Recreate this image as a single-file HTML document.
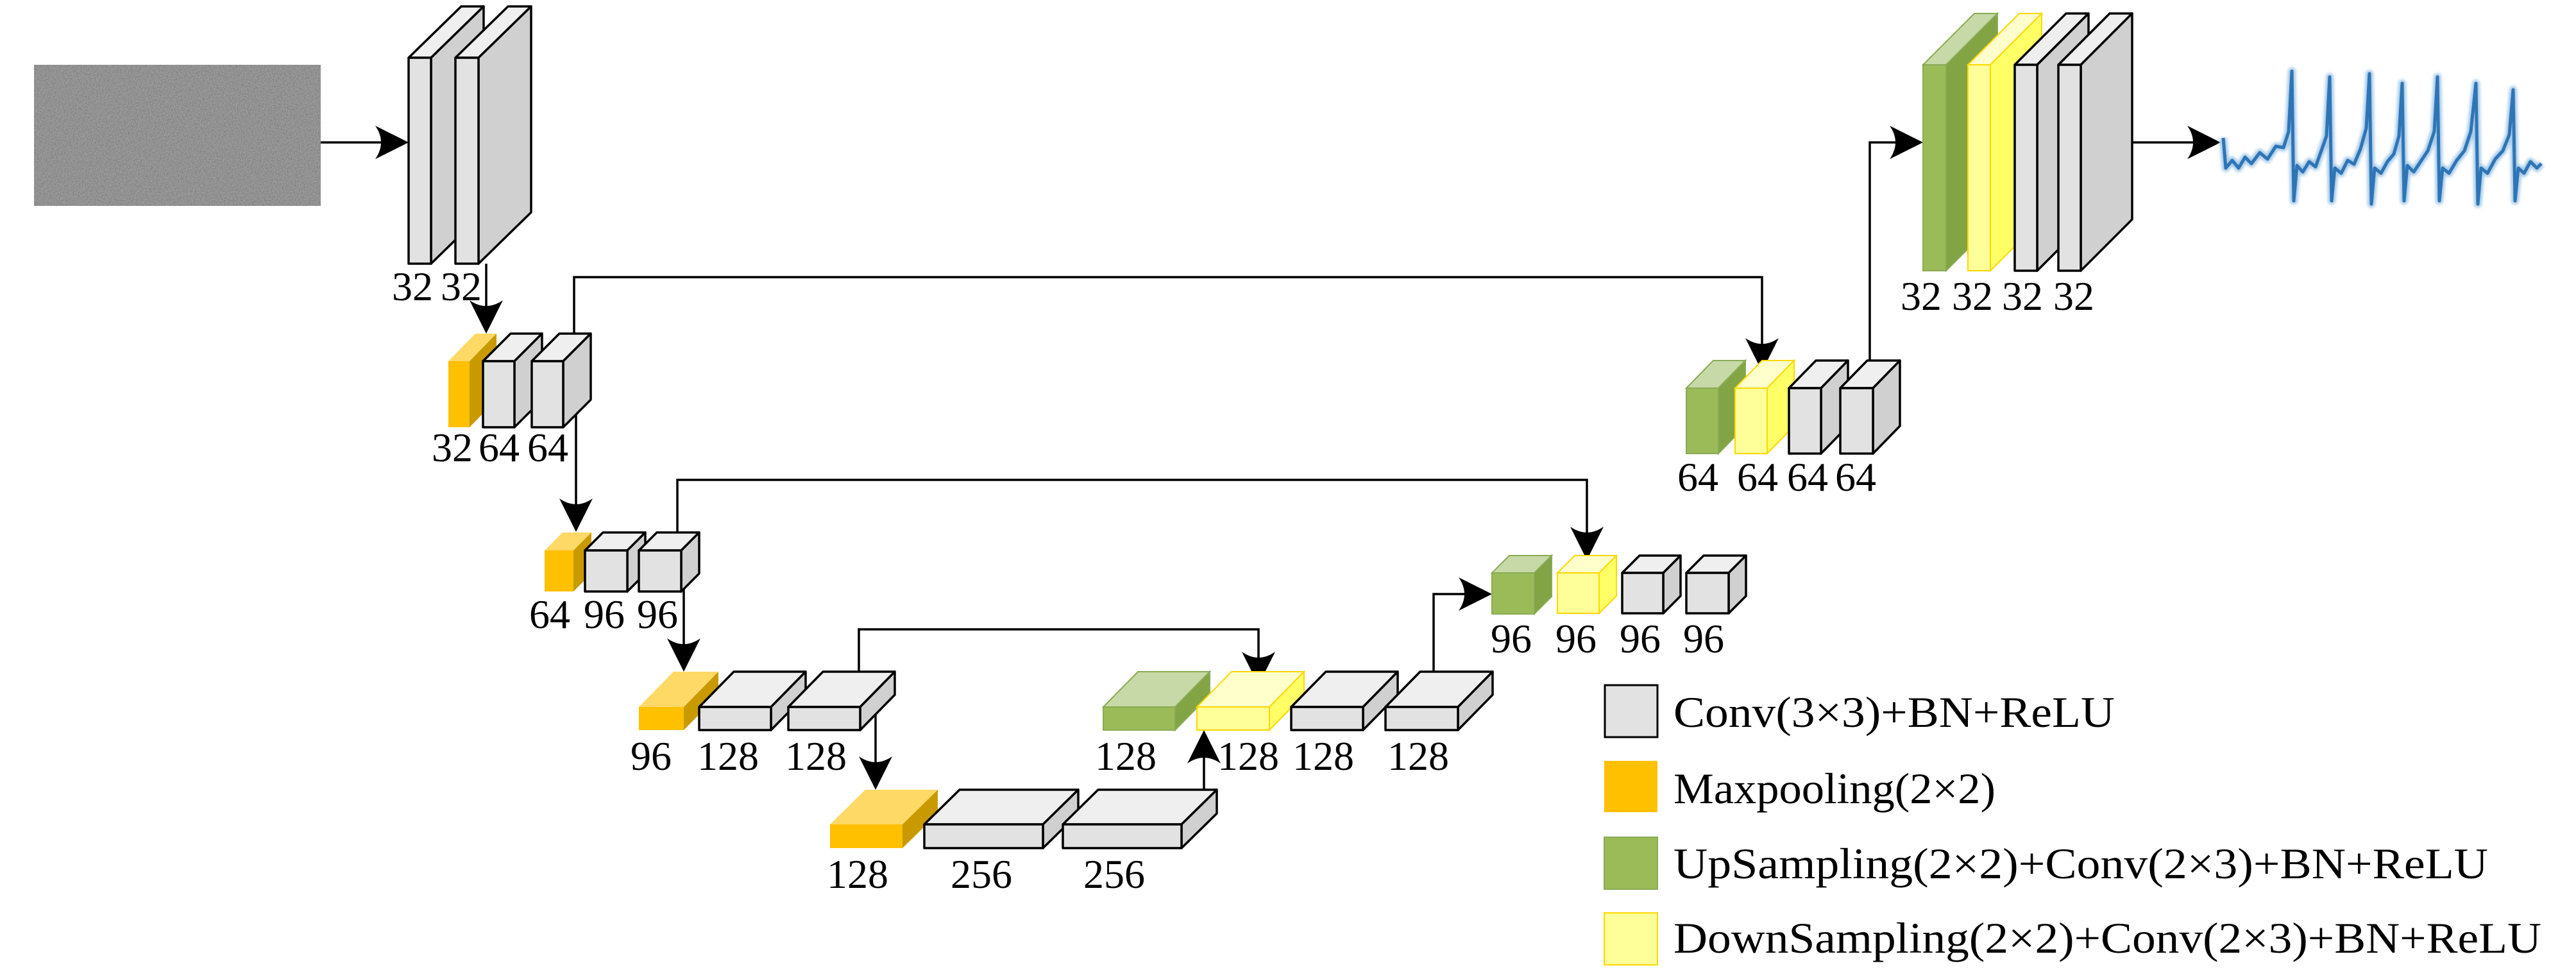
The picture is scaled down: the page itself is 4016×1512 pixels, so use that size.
<!DOCTYPE html>
<html><head><meta charset="utf-8"><style>html,body{margin:0;padding:0;background:#fff}svg{display:block}</style></head>
<body>
<svg width="4016" height="1512" viewBox="0 0 4016 1512" xmlns="http://www.w3.org/2000/svg">
<defs>
<path id="ah" d="M0,0 L-52,-26 Q-34,0 -52,26 Z" fill="#000"/>
<filter id="nz" x="0" y="0" width="100%" height="100%">
<feTurbulence type="fractalNoise" baseFrequency="0.5" numOctaves="2" seed="3"/>
<feColorMatrix type="matrix" values="1 0 0 0 0  1 0 0 0 0  1 0 0 0 0  0 0 0 0 1"/>
</filter>
<filter id="bl"><feGaussianBlur stdDeviation="2"/></filter>
</defs>

<!-- input noise image -->
<rect x="53" y="101" width="447" height="220" fill="#808080"/>
<rect x="53" y="101" width="447" height="220" filter="url(#nz)" opacity="0.3"/>

<g stroke="#000" stroke-width="3.5" fill="none">
<line x1="500" y1="222" x2="600" y2="222"/>
<line x1="758" y1="411" x2="758" y2="490"/>
<line x1="898" y1="647" x2="898" y2="800"/>
<line x1="1066" y1="912" x2="1066" y2="1020"/>
<line x1="1365" y1="1110" x2="1365" y2="1200"/>
<line x1="1877" y1="1231" x2="1877" y2="1165"/>
<polyline points="2235,1047 2235,926 2300,926"/>
<polyline points="895,520 895,432 2747,432 2747,550"/>
<polyline points="1056,830 1056,748 2474,748 2474,845"/>
<polyline points="1339,1047 1339,981 1962,981 1962,1040"/>
<polyline points="2915,582 2915,222 2970,222"/>
<line x1="3300" y1="222" x2="3430" y2="222"/>
</g>

<g>
<use href="#ah" transform="translate(637,222)"/>
<use href="#ah" transform="translate(758,520) rotate(90)"/>
<use href="#ah" transform="translate(898,829) rotate(90)"/>
<use href="#ah" transform="translate(1066,1047) rotate(90)"/>
<use href="#ah" transform="translate(1365,1231) rotate(90)"/>
<use href="#ah" transform="translate(1877,1138) rotate(-90)"/>
<use href="#ah" transform="translate(2326,926)"/>
<use href="#ah" transform="translate(2747,579) rotate(90)"/>
<use href="#ah" transform="translate(2474,873) rotate(90)"/>
<use href="#ah" transform="translate(1962,1068) rotate(90)"/>
<use href="#ah" transform="translate(2998,222)"/>
<use href="#ah" transform="translate(3462,222)"/>
</g>

<g stroke="#000" stroke-width="3.5" stroke-linejoin="round">
<polygon points="637,90 719,10 754,10 672,90" fill="#efefef"/><polygon points="672,90 754,10 754,331 672,411" fill="#d0d0d0"/><rect x="637" y="90" width="35" height="321" fill="#e2e2e2"/>
<polygon points="710,90 792,10 828,10 746,90" fill="#efefef"/><polygon points="746,90 828,10 828,331 746,411" fill="#d0d0d0"/><rect x="710" y="90" width="36" height="321" fill="#e2e2e2"/>
</g>
<g stroke="none"><polygon points="699,563 741,520 774,520 732,563" fill="#ffd966"/><polygon points="732,563 774,520 774,623 732,666" fill="#c99a00"/><rect x="699" y="563" width="33" height="103" fill="#ffc000"/></g>
<g stroke="#000" stroke-width="3.5" stroke-linejoin="round">
<polygon points="753,563 796,520 845,520 802,563" fill="#efefef"/><polygon points="802,563 845,520 845,623 802,666" fill="#d0d0d0"/><rect x="753" y="563" width="49" height="103" fill="#e2e2e2"/>
<polygon points="829,563 872,520 921,520 878,563" fill="#efefef"/><polygon points="878,563 921,520 921,623 878,666" fill="#d0d0d0"/><rect x="829" y="563" width="49" height="103" fill="#e2e2e2"/>
</g>
<g stroke="none"><polygon points="849,858 877,830 922,830 894,858" fill="#ffd966"/><polygon points="894,858 922,830 922,894 894,922" fill="#c99a00"/><rect x="849" y="858" width="45" height="64" fill="#ffc000"/></g>
<g stroke="#000" stroke-width="3.5" stroke-linejoin="round">
<polygon points="912,858 940,830 1006,830 978,858" fill="#efefef"/><polygon points="978,858 1006,830 1006,894 978,922" fill="#d0d0d0"/><rect x="912" y="858" width="66" height="64" fill="#e2e2e2"/>
<polygon points="996,858 1024,830 1090,830 1062,858" fill="#efefef"/><polygon points="1062,858 1090,830 1090,894 1062,922" fill="#d0d0d0"/><rect x="996" y="858" width="66" height="64" fill="#e2e2e2"/>
</g>
<g stroke="none"><polygon points="996,1102 1050,1047 1120,1047 1066,1102" fill="#ffd966"/><polygon points="1066,1102 1120,1047 1120,1083 1066,1138" fill="#c99a00"/><rect x="996" y="1102" width="70" height="36" fill="#ffc000"/></g>
<g stroke="#000" stroke-width="3.5" stroke-linejoin="round">
<polygon points="1090,1102 1144,1047 1256,1047 1202,1102" fill="#efefef"/><polygon points="1202,1102 1256,1047 1256,1083 1202,1138" fill="#d0d0d0"/><rect x="1090" y="1102" width="112" height="36" fill="#e2e2e2"/>
<polygon points="1229,1102 1283,1047 1395,1047 1341,1102" fill="#efefef"/><polygon points="1341,1102 1395,1047 1395,1083 1341,1138" fill="#d0d0d0"/><rect x="1229" y="1102" width="112" height="36" fill="#e2e2e2"/>
</g>
<g stroke="none"><polygon points="1294,1285 1349,1231 1462,1231 1407,1285" fill="#ffd966"/><polygon points="1407,1285 1462,1231 1462,1268 1407,1322" fill="#c99a00"/><rect x="1294" y="1285" width="113" height="37" fill="#ffc000"/></g>
<g stroke="#000" stroke-width="3.5" stroke-linejoin="round">
<polygon points="1441,1285 1496,1231 1681,1231 1626,1285" fill="#efefef"/><polygon points="1626,1285 1681,1231 1681,1268 1626,1322" fill="#d0d0d0"/><rect x="1441" y="1285" width="185" height="37" fill="#e2e2e2"/>
<polygon points="1657,1285 1712,1231 1897,1231 1842,1285" fill="#efefef"/><polygon points="1842,1285 1897,1231 1897,1268 1842,1322" fill="#d0d0d0"/><rect x="1657" y="1285" width="185" height="37" fill="#e2e2e2"/>
</g>
<g stroke="#8aab55" stroke-width="2"><polygon points="1720,1102 1774,1047 1886,1047 1832,1102" fill="#c6d9a6"/><polygon points="1832,1102 1886,1047 1886,1083 1832,1138" fill="#82a445"/><rect x="1720" y="1102" width="112" height="36" fill="#9bbb59"/></g>
<g stroke="#ffd700" stroke-width="2"><polygon points="1866,1102 1920,1047 2033,1047 1979,1102" fill="#ffffcc"/><polygon points="1979,1102 2033,1047 2033,1083 1979,1138" fill="#ffff66"/><rect x="1866" y="1102" width="113" height="36" fill="#ffff99"/></g>
<g stroke="#000" stroke-width="3.5" stroke-linejoin="round">
<polygon points="2013,1102 2067,1047 2179,1047 2125,1102" fill="#efefef"/><polygon points="2125,1102 2179,1047 2179,1083 2125,1138" fill="#d0d0d0"/><rect x="2013" y="1102" width="112" height="36" fill="#e2e2e2"/>
<polygon points="2160,1102 2214,1047 2327,1047 2273,1102" fill="#efefef"/><polygon points="2273,1102 2327,1047 2327,1083 2273,1138" fill="#d0d0d0"/><rect x="2160" y="1102" width="113" height="36" fill="#e2e2e2"/>
</g>
<g stroke="#8aab55" stroke-width="2"><polygon points="2326,893 2353,866 2419,866 2392,893" fill="#c6d9a6"/><polygon points="2392,893 2419,866 2419,930 2392,957" fill="#82a445"/><rect x="2326" y="893" width="66" height="64" fill="#9bbb59"/></g>
<g stroke="#ffd700" stroke-width="2"><polygon points="2428,893 2455,866 2520,866 2493,893" fill="#ffffcc"/><polygon points="2493,893 2520,866 2520,929 2493,956" fill="#ffff66"/><rect x="2428" y="893" width="65" height="63" fill="#ffff99"/></g>
<g stroke="#000" stroke-width="3.5" stroke-linejoin="round">
<polygon points="2529,893 2556,866 2620,866 2593,893" fill="#efefef"/><polygon points="2593,893 2620,866 2620,929 2593,956" fill="#d0d0d0"/><rect x="2529" y="893" width="64" height="63" fill="#e2e2e2"/>
<polygon points="2629,893 2656,866 2722,866 2695,893" fill="#efefef"/><polygon points="2695,893 2722,866 2722,929 2695,956" fill="#d0d0d0"/><rect x="2629" y="893" width="66" height="63" fill="#e2e2e2"/>
</g>
<g stroke="#8aab55" stroke-width="2"><polygon points="2629,605 2671,562 2721,562 2679,605" fill="#c6d9a6"/><polygon points="2679,605 2721,562 2721,664 2679,707" fill="#82a445"/><rect x="2629" y="605" width="50" height="102" fill="#9bbb59"/></g>
<g stroke="#ffd700" stroke-width="2"><polygon points="2705,605 2747,562 2797,562 2755,605" fill="#ffffcc"/><polygon points="2755,605 2797,562 2797,664 2755,707" fill="#ffff66"/><rect x="2705" y="605" width="50" height="102" fill="#ffff99"/></g>
<g stroke="#000" stroke-width="3.5" stroke-linejoin="round">
<polygon points="2789,605 2831,562 2881,562 2839,605" fill="#efefef"/><polygon points="2839,605 2881,562 2881,664 2839,707" fill="#d0d0d0"/><rect x="2789" y="605" width="50" height="102" fill="#e2e2e2"/>
<polygon points="2869,605 2911,562 2962,562 2920,605" fill="#efefef"/><polygon points="2920,605 2962,562 2962,664 2920,707" fill="#d0d0d0"/><rect x="2869" y="605" width="51" height="102" fill="#e2e2e2"/>
</g>
<g stroke="#8aab55" stroke-width="2"><polygon points="2998,101 3078,21 3114,21 3034,101" fill="#c6d9a6"/><polygon points="3034,101 3114,21 3114,342 3034,422" fill="#82a445"/><rect x="2998" y="101" width="36" height="321" fill="#9bbb59"/></g>
<g stroke="#ffd700" stroke-width="2"><polygon points="3068,101 3148,21 3183,21 3103,101" fill="#ffffcc"/><polygon points="3103,101 3183,21 3183,342 3103,422" fill="#ffff66"/><rect x="3068" y="101" width="35" height="321" fill="#ffff99"/></g>
<g stroke="#000" stroke-width="3.5" stroke-linejoin="round">
<polygon points="3141,101 3221,21 3256,21 3176,101" fill="#efefef"/><polygon points="3176,101 3256,21 3256,342 3176,422" fill="#d0d0d0"/><rect x="3141" y="101" width="35" height="321" fill="#e2e2e2"/>
<polygon points="3209,101 3289,21 3324,21 3244,101" fill="#efefef"/><polygon points="3244,101 3324,21 3324,342 3244,422" fill="#d0d0d0"/><rect x="3209" y="101" width="35" height="321" fill="#e2e2e2"/>
</g>

<!-- ECG signal -->
<g fill="none" stroke-linejoin="round">
<polyline stroke="#a8cbe8" stroke-width="12" filter="url(#bl)" points="3466,215 3470,262 3480,250 3490,262 3500,245 3510,255 3523,238 3535,248 3548,228 3560,230 3568,205 3573,111 3576,313 3581,258 3590,268 3600,252 3610,260 3620,232 3627,212 3632,120 3635,313 3640,262 3650,270 3660,250 3670,256 3680,232 3689,200 3694,115 3697,318 3702,262 3712,270 3722,252 3732,240 3740,212 3745,130 3748,313 3753,258 3763,268 3775,250 3785,235 3795,205 3800,120 3803,313 3808,262 3818,270 3830,250 3842,235 3852,205 3860,130 3863,318 3868,262 3878,270 3890,248 3902,235 3912,210 3918,140 3921,313 3926,262 3935,270 3945,252 3955,262 3962,255"/>
<polyline stroke="#2e75b6" stroke-width="5" points="3466,215 3470,262 3480,250 3490,262 3500,245 3510,255 3523,238 3535,248 3548,228 3560,230 3568,205 3573,111 3576,313 3581,258 3590,268 3600,252 3610,260 3620,232 3627,212 3632,120 3635,313 3640,262 3650,270 3660,250 3670,256 3680,232 3689,200 3694,115 3697,318 3702,262 3712,270 3722,252 3732,240 3740,212 3745,130 3748,313 3753,258 3763,268 3775,250 3785,235 3795,205 3800,120 3803,313 3808,262 3818,270 3830,250 3842,235 3852,205 3860,130 3863,318 3868,262 3878,270 3890,248 3902,235 3912,210 3918,140 3921,313 3926,262 3935,270 3945,252 3955,262 3962,255"/>
</g>

<!-- labels -->
<g font-family="'Liberation Serif', serif" font-size="64" text-anchor="middle" fill="#000">
<text x="643" y="468">32</text><text x="719" y="468">32</text>
<text x="705" y="719">32</text><text x="778" y="719">64</text><text x="854" y="719">64</text>
<text x="857" y="979">64</text><text x="942" y="979">96</text><text x="1025" y="979">96</text>
<text x="1015" y="1200">96</text><text x="1135" y="1200">128</text><text x="1272" y="1200">128</text>
<text x="1337" y="1384">128</text><text x="1530" y="1384">256</text><text x="1737" y="1384">256</text>
<text x="1755" y="1200">128</text><text x="1946" y="1200">128</text><text x="2063" y="1200">128</text><text x="2211" y="1200">128</text>
<text x="2356" y="1017">96</text><text x="2457" y="1017">96</text><text x="2557" y="1017">96</text><text x="2656" y="1017">96</text>
<text x="2647" y="765">64</text><text x="2740" y="765">64</text><text x="2818" y="765">64</text><text x="2893" y="765">64</text>
<text x="2995" y="483">32</text><text x="3075" y="483">32</text><text x="3153" y="483">32</text><text x="3233" y="483">32</text>
</g>

<!-- legend -->
<rect x="2502" y="1068" width="82" height="81" fill="#e2e2e2" stroke="#000" stroke-width="3"/>
<rect x="2501" y="1186" width="83" height="80" fill="#ffc000"/>
<rect x="2501" y="1305" width="83" height="81" fill="#9bbb59" stroke="#8aab55" stroke-width="2"/>
<rect x="2501" y="1423" width="83" height="81" fill="#ffff99" stroke="#ffd700" stroke-width="2"/>
<g font-family="'Liberation Serif', serif" font-size="68" fill="#000">
<text x="2609" y="1133" textLength="688" lengthAdjust="spacingAndGlyphs">Conv(3×3)+BN+ReLU</text>
<text x="2609" y="1252" textLength="502" lengthAdjust="spacingAndGlyphs">Maxpooling(2×2)</text>
<text x="2609" y="1369" textLength="1270" lengthAdjust="spacingAndGlyphs">UpSampling(2×2)+Conv(2×3)+BN+ReLU</text>
<text x="2609" y="1485" textLength="1353" lengthAdjust="spacingAndGlyphs">DownSampling(2×2)+Conv(2×3)+BN+ReLU</text>
</g>
</svg>
</body></html>
